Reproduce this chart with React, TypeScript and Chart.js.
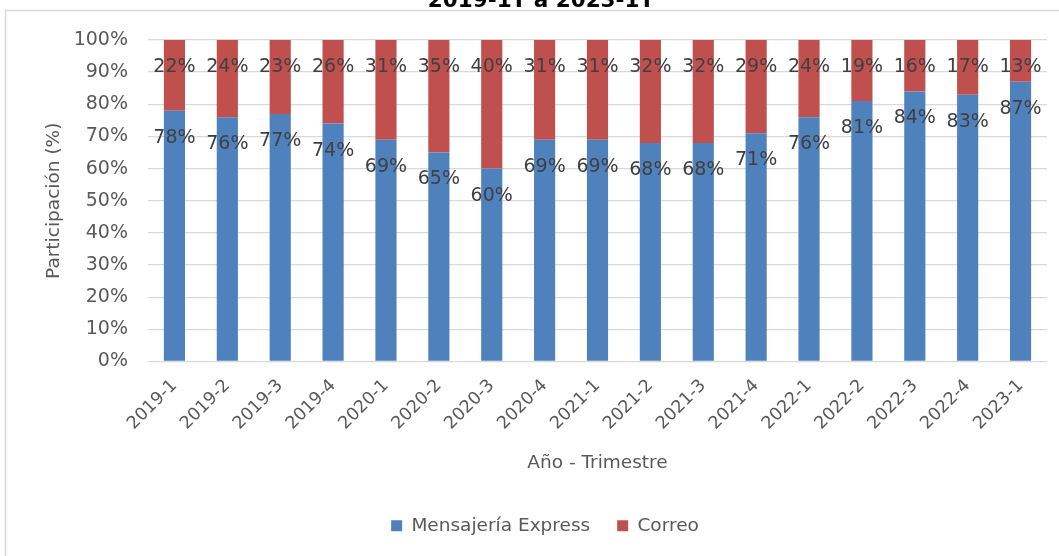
import { useEffect, useRef } from "react";
import { Chart, registerables } from "chart.js";

Chart.register(...registerables);

const categories = [
  "2019-1", "2019-2", "2019-3", "2019-4",
  "2020-1", "2020-2", "2020-3", "2020-4",
  "2021-1", "2021-2", "2021-3", "2021-4",
  "2022-1", "2022-2", "2022-3", "2022-4",
  "2023-1",
];
const mensajeria = [78, 76, 77, 74, 69, 65, 60, 69, 69, 68, 68, 71, 76, 81, 84, 83, 87];
const correo = [22, 24, 23, 26, 31, 35, 40, 31, 31, 32, 32, 29, 24, 19, 16, 17, 13];
const seriesNames = ["Mensajería Express", "Correo"];
const titleText = "2019-1T a 2023-1T";
const xTitle = "Año - Trimestre";
const yTitle = "Participación (%)";

const FAMILY = "'DejaVu Sans', Verdana, sans-serif";
const TEXT = "#595959";

const framePlugin = {
  id: "frame",
  beforeDraw(chart: any) {
    const { ctx, width, height } = chart;
    ctx.save();
    ctx.fillStyle = "#ffffff";
    ctx.fillRect(0, 0, width, height);
    ctx.strokeStyle = "#d9d9d9";
    ctx.lineWidth = 1.5;
    ctx.beginPath();
    ctx.moveTo(5.5, height + 2);
    ctx.lineTo(5.5, 10.5);
    ctx.lineTo(width + 2, 10.5);
    ctx.stroke();
    ctx.restore();
  },
  afterDraw(chart: any) {
    const { ctx } = chart;
    ctx.save();
    ctx.font = `bold 21.5px ${FAMILY}`;
    ctx.fillStyle = "#000000";
    ctx.textAlign = "center";
    ctx.textBaseline = "alphabetic";
    ctx.fillText(titleText, 541, 7);
    ctx.restore();
  },
};

const labelPlugin = {
  id: "barLabels",
  afterDatasetsDraw(chart: any) {
    const { ctx } = chart;
    ctx.save();
    ctx.font = `19px ${FAMILY}`;
    ctx.fillStyle = "#404040";
    ctx.textAlign = "center";
    ctx.textBaseline = "middle";
    chart.data.datasets.forEach((ds: any, di: number) => {
      const meta = chart.getDatasetMeta(di);
      meta.data.forEach((bar: any, i: number) => {
        ctx.fillText(`${ds.data[i]}%`, bar.x, bar.y + 27);
      });
    });
    ctx.restore();
  },
};

export default function App() {
  const ref = useRef<HTMLCanvasElement | null>(null);
  useEffect(() => {
    if (!ref.current) return;
    const chart = new Chart(ref.current, {
      type: "bar",
      data: {
        labels: categories,
        datasets: [
          {
            label: seriesNames[0],
            data: mensajeria,
            backgroundColor: "#4f81bd",
            barPercentage: 0.4,
            categoryPercentage: 1,
          },
          {
            label: seriesNames[1],
            data: correo,
            backgroundColor: "#c0504d",
            barPercentage: 0.4,
            categoryPercentage: 1,
          },
        ],
      },
      plugins: [framePlugin, labelPlugin],
      options: {
        animation: false,
        responsive: false,
        maintainAspectRatio: false,
        layout: { padding: { left: 43, right: 12, top: 40, bottom: 11 } },
        plugins: {
          title: { display: false },
          tooltip: { enabled: false },
          legend: {
            position: "bottom",
            labels: {
              boxWidth: 11,
              boxHeight: 11,
              padding: 27,
              color: TEXT,
              font: { size: 18.5, family: FAMILY },
            },
          },
        },
        scales: {
          x: {
            stacked: true,
            grid: { display: false },
            border: { display: false },
            ticks: {
              minRotation: 45,
              maxRotation: 45,
              color: TEXT,
              padding: 6,
              font: { size: 17.5, family: FAMILY },
            },
            title: {
              display: true,
              text: xTitle,
              color: TEXT,
              font: { size: 18.5, family: FAMILY },
              padding: { top: 4, bottom: 15 },
            },
            afterFit: (s: any) => {
              s.height = 128;
            },
          },
          y: {
            stacked: true,
            min: 0,
            max: 100,
            grid: { color: "#d9d9d9", lineWidth: 1.3, drawTicks: false },
            border: { display: false },
            ticks: {
              stepSize: 10,
              padding: 20,
              color: TEXT,
              font: { size: 19, family: FAMILY },
              callback: (v: any) => `${v}%`,
            },
            title: {
              display: true,
              text: yTitle,
              color: TEXT,
              font: { size: 18.5, family: FAMILY },
              padding: 0,
            },
            afterFit: (s: any) => {
              s.width = 105;
            },
          },
        },
      } as any,
    });
    return () => chart.destroy();
  }, []);
  return (
    <div style={{ position: "absolute", left: 0, top: 0, width: 1059, height: 556 }}>
      <canvas ref={ref} width={1059} height={556} style={{ display: "block", width: 1059, height: 556 }} />
    </div>
  );
}
